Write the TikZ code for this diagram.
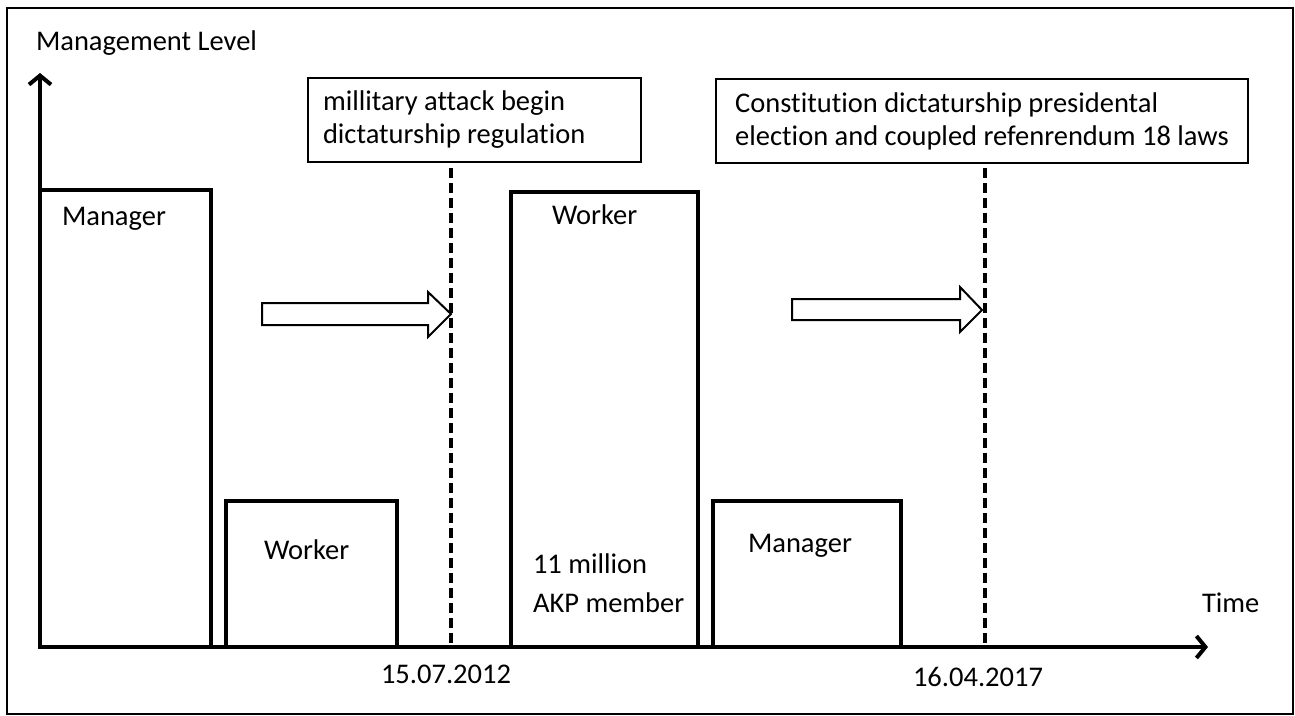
\documentclass[tikz,border=0pt]{standalone}
\usepackage{fontspec}
\setmainfont{Carlito}[Ligatures=NoCommon]
\usetikzlibrary{arrows.meta}
\tikzset{every node/.style={inner sep=0pt, outer sep=0pt, font=\fontsize{28.5}{33}\selectfont}}
\tikzset{bar/.style={draw, line width=4pt, anchor=south west}}
\tikzset{axis/.style={line width=4pt, -{Straight Barb[length=9pt,width=22pt]}}}
\tikzset{cut/.style={line width=3.5pt, dash pattern=on 10pt off 5pt}}
\tikzset{infobox/.style={draw, line width=1.5pt, anchor=north west, align=flush left}}
\tikzset{hollow/.style={draw, line width=2pt, fill=white}}

\begin{document}
\begin{tikzpicture}[x=1pt, y=-1pt]
  \useasboundingbox (0,0) rectangle (1295,715);
  \draw[line width=1.5pt] (7,8) rectangle (1293,714);

  % axes
  \coordinate (O) at (40,647);
  \coordinate (Y) at (40,73);
  \coordinate (X) at (1208,647);
  \node (ylabel) [anchor=base west] at (36,50) {Management Level};
  \node (xlabel) [anchor=base west] at (1202,612) {Time};

  % bars
  \node (mgr1) [bar, minimum width=171pt, minimum height=457pt] at (40,647) {};
  \node (wrk1) [bar, minimum width=171pt, minimum height=146pt] at (226,647) {};
  \node (wrk2) [bar, minimum width=187pt, minimum height=455pt] at (511,647) {};
  \node (mgr2) [bar, minimum width=188pt, minimum height=146pt] at (713,647) {};

  \node (mgr1txt) [anchor=base west] at (62,225) {Manager};
  \node (wrk1txt) [anchor=base west] at (264,559) {Worker};
  \node (wrk2txt) [anchor=base west] at (552,224) {Worker};
  \node (akp) [anchor=base west] at (533,573) {11 million};
  \node (akp2) [anchor=base west] at (533,612) {AKP member};
  \node (mgr2txt) [anchor=base west] at (748,552) {Manager};

  \draw[axis] (O) -- (Y);
  \draw[axis] (O) -- (X);

  % events
  \node (ev1) [infobox, text width=303pt, minimum height=84pt, inner xsep=15pt] at (308,78)
    {millitary attack begin\\dictaturship regulation};
  \node (ev2) [infobox, minimum width=532pt, minimum height=84pt] at (716,79)
    {Constitution dictaturship presidental\\election and coupled refenrendum 18 laws};

  \coordinate (cut1top) at (451,168);
  \coordinate (cut1bot) at (451,647);
  \coordinate (cut2top) at (985,168);
  \coordinate (cut2bot) at (985,647);
  \draw[cut] (cut1top) -- (cut1bot);
  \draw[cut] (cut2top) -- (cut2bot);

  \node (date1) [anchor=base] at (446,683) {15.07.2012};
  \node (date2) [anchor=base] at (978,686) {16.04.2017};

  % block arrows
  \draw[hollow] (262,303) -- (428,303) -- (428,292) -- (451,314) -- (428,337) -- (428,325) -- (262,325) -- cycle;
  \draw[hollow] (792,299) -- (960,299) -- (960,287) -- (982,310) -- (960,332) -- (960,320) -- (792,320) -- cycle;
\end{tikzpicture}
\end{document}
